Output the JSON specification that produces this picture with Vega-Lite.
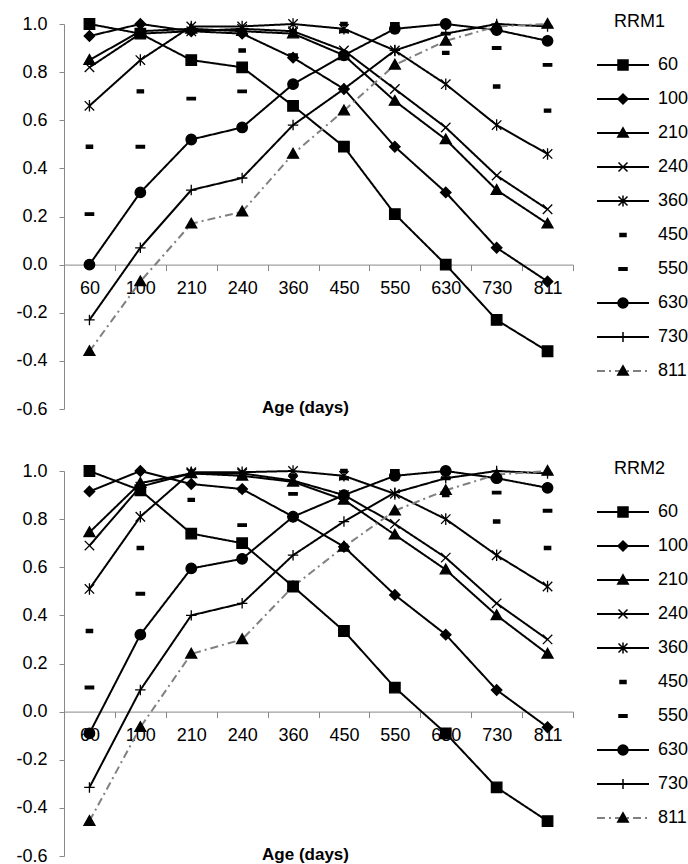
{
 "$schema": "https://vega.github.io/schema/vega-lite/v6.json",
 "padding": {"left": 15, "top": 13, "right": 0, "bottom": 0},
 "config": {
  "font": "Liberation Sans",
  "view": {"stroke": null},
  "concat": {"spacing": 42},
  "axis": {"grid": false, "domainColor": "#888888", "tickColor": "#888888", "labelColor": "black", "labelFontSize": 18, "labelFont": "Liberation Sans"}
 },
 "datasets": {
  "rrm1": [
   {"s":60,"a":60,"v":1.00},{"s":60,"a":100,"v":0.96},{"s":60,"a":210,"v":0.85},{"s":60,"a":240,"v":0.82},{"s":60,"a":360,"v":0.66},{"s":60,"a":450,"v":0.49},{"s":60,"a":550,"v":0.21},{"s":60,"a":630,"v":0.00},{"s":60,"a":730,"v":-0.23},{"s":60,"a":811,"v":-0.36},
   {"s":100,"a":60,"v":0.95},{"s":100,"a":100,"v":1.00},{"s":100,"a":210,"v":0.97},{"s":100,"a":240,"v":0.96},{"s":100,"a":360,"v":0.86},{"s":100,"a":450,"v":0.73},{"s":100,"a":550,"v":0.49},{"s":100,"a":630,"v":0.30},{"s":100,"a":730,"v":0.07},{"s":100,"a":811,"v":-0.07},
   {"s":210,"a":60,"v":0.85},{"s":210,"a":100,"v":0.97},{"s":210,"a":210,"v":0.98},{"s":210,"a":240,"v":0.97},{"s":210,"a":360,"v":0.96},{"s":210,"a":450,"v":0.87},{"s":210,"a":550,"v":0.68},{"s":210,"a":630,"v":0.52},{"s":210,"a":730,"v":0.31},{"s":210,"a":811,"v":0.17},
   {"s":240,"a":60,"v":0.82},{"s":240,"a":100,"v":0.96},{"s":240,"a":210,"v":0.97},{"s":240,"a":240,"v":0.98},{"s":240,"a":360,"v":0.97},{"s":240,"a":450,"v":0.89},{"s":240,"a":550,"v":0.73},{"s":240,"a":630,"v":0.57},{"s":240,"a":730,"v":0.37},{"s":240,"a":811,"v":0.23},
   {"s":360,"a":60,"v":0.66},{"s":360,"a":100,"v":0.85},{"s":360,"a":210,"v":0.99},{"s":360,"a":240,"v":0.99},{"s":360,"a":360,"v":1.00},{"s":360,"a":450,"v":0.98},{"s":360,"a":550,"v":0.89},{"s":360,"a":630,"v":0.75},{"s":360,"a":730,"v":0.58},{"s":360,"a":811,"v":0.46},
   {"s":450,"a":60,"v":0.49},{"s":450,"a":100,"v":0.72},{"s":450,"a":210,"v":0.85},{"s":450,"a":240,"v":0.89},{"s":450,"a":360,"v":0.97},{"s":450,"a":450,"v":1.00},{"s":450,"a":550,"v":0.97},{"s":450,"a":630,"v":0.88},{"s":450,"a":730,"v":0.74},{"s":450,"a":811,"v":0.64},
   {"s":550,"a":60,"v":0.21},{"s":550,"a":100,"v":0.49},{"s":550,"a":210,"v":0.69},{"s":550,"a":240,"v":0.72},{"s":550,"a":360,"v":0.87},{"s":550,"a":450,"v":0.97},{"s":550,"a":550,"v":1.00},{"s":550,"a":630,"v":0.96},{"s":550,"a":730,"v":0.90},{"s":550,"a":811,"v":0.83},
   {"s":630,"a":60,"v":0.00},{"s":630,"a":100,"v":0.30},{"s":630,"a":210,"v":0.52},{"s":630,"a":240,"v":0.57},{"s":630,"a":360,"v":0.75},{"s":630,"a":450,"v":0.87},{"s":630,"a":550,"v":0.98},{"s":630,"a":630,"v":1.00},{"s":630,"a":730,"v":0.975},{"s":630,"a":811,"v":0.93},
   {"s":730,"a":60,"v":-0.23},{"s":730,"a":100,"v":0.07},{"s":730,"a":210,"v":0.31},{"s":730,"a":240,"v":0.36},{"s":730,"a":360,"v":0.58},{"s":730,"a":450,"v":0.73},{"s":730,"a":550,"v":0.89},{"s":730,"a":630,"v":0.96},{"s":730,"a":730,"v":1.00},{"s":730,"a":811,"v":0.99},
   {"s":811,"a":60,"v":-0.36},{"s":811,"a":100,"v":-0.07},{"s":811,"a":210,"v":0.17},{"s":811,"a":240,"v":0.22},{"s":811,"a":360,"v":0.46},{"s":811,"a":450,"v":0.64},{"s":811,"a":550,"v":0.83},{"s":811,"a":630,"v":0.93},{"s":811,"a":730,"v":0.99},{"s":811,"a":811,"v":1.00}
  ],
  "rrm2": [
   {"s":60,"a":60,"v":1.00},{"s":60,"a":100,"v":0.92},{"s":60,"a":210,"v":0.74},{"s":60,"a":240,"v":0.70},{"s":60,"a":360,"v":0.52},{"s":60,"a":450,"v":0.335},{"s":60,"a":550,"v":0.10},{"s":60,"a":630,"v":-0.09},{"s":60,"a":730,"v":-0.315},{"s":60,"a":811,"v":-0.455},
   {"s":100,"a":60,"v":0.915},{"s":100,"a":100,"v":1.00},{"s":100,"a":210,"v":0.946},{"s":100,"a":240,"v":0.925},{"s":100,"a":360,"v":0.81},{"s":100,"a":450,"v":0.685},{"s":100,"a":550,"v":0.485},{"s":100,"a":630,"v":0.32},{"s":100,"a":730,"v":0.09},{"s":100,"a":811,"v":-0.065},
   {"s":210,"a":60,"v":0.745},{"s":210,"a":100,"v":0.95},{"s":210,"a":210,"v":0.99},{"s":210,"a":240,"v":0.98},{"s":210,"a":360,"v":0.955},{"s":210,"a":450,"v":0.88},{"s":210,"a":550,"v":0.735},{"s":210,"a":630,"v":0.59},{"s":210,"a":730,"v":0.40},{"s":210,"a":811,"v":0.24},
   {"s":240,"a":60,"v":0.69},{"s":240,"a":100,"v":0.935},{"s":240,"a":210,"v":0.99},{"s":240,"a":240,"v":0.99},{"s":240,"a":360,"v":0.96},{"s":240,"a":450,"v":0.90},{"s":240,"a":550,"v":0.78},{"s":240,"a":630,"v":0.64},{"s":240,"a":730,"v":0.45},{"s":240,"a":811,"v":0.30},
   {"s":360,"a":60,"v":0.51},{"s":360,"a":100,"v":0.81},{"s":360,"a":210,"v":0.995},{"s":360,"a":240,"v":0.995},{"s":360,"a":360,"v":1.00},{"s":360,"a":450,"v":0.98},{"s":360,"a":550,"v":0.905},{"s":360,"a":630,"v":0.80},{"s":360,"a":730,"v":0.65},{"s":360,"a":811,"v":0.52},
   {"s":450,"a":60,"v":0.335},{"s":450,"a":100,"v":0.68},{"s":450,"a":210,"v":0.88},{"s":450,"a":240,"v":0.92},{"s":450,"a":360,"v":0.98},{"s":450,"a":450,"v":1.00},{"s":450,"a":550,"v":0.97},{"s":450,"a":630,"v":0.90},{"s":450,"a":730,"v":0.79},{"s":450,"a":811,"v":0.68},
   {"s":550,"a":60,"v":0.10},{"s":550,"a":100,"v":0.49},{"s":550,"a":210,"v":0.735},{"s":550,"a":240,"v":0.775},{"s":550,"a":360,"v":0.905},{"s":550,"a":450,"v":0.97},{"s":550,"a":550,"v":1.00},{"s":550,"a":630,"v":0.97},{"s":550,"a":730,"v":0.91},{"s":550,"a":811,"v":0.835},
   {"s":630,"a":60,"v":-0.09},{"s":630,"a":100,"v":0.32},{"s":630,"a":210,"v":0.595},{"s":630,"a":240,"v":0.635},{"s":630,"a":360,"v":0.81},{"s":630,"a":450,"v":0.90},{"s":630,"a":550,"v":0.98},{"s":630,"a":630,"v":1.00},{"s":630,"a":730,"v":0.97},{"s":630,"a":811,"v":0.93},
   {"s":730,"a":60,"v":-0.315},{"s":730,"a":100,"v":0.09},{"s":730,"a":210,"v":0.40},{"s":730,"a":240,"v":0.45},{"s":730,"a":360,"v":0.65},{"s":730,"a":450,"v":0.79},{"s":730,"a":550,"v":0.91},{"s":730,"a":630,"v":0.97},{"s":730,"a":730,"v":1.00},{"s":730,"a":811,"v":0.99},
   {"s":811,"a":60,"v":-0.455},{"s":811,"a":100,"v":-0.065},{"s":811,"a":210,"v":0.24},{"s":811,"a":240,"v":0.30},{"s":811,"a":360,"v":0.52},{"s":811,"a":450,"v":0.685},{"s":811,"a":550,"v":0.835},{"s":811,"a":630,"v":0.92},{"s":811,"a":730,"v":0.985},{"s":811,"a":811,"v":1.00}
  ]
 },
 "vconcat": [
  {
   "width": 509, "height": 385,
   "data": {"name": "rrm1"},
   "encoding": {
    "x": {"field": "a", "type": "ordinal", "scale": {"type": "band", "paddingInner": 0, "paddingOuter": 0},
     "axis": {"title": "Age (days)", "titleFontSize": 17, "titleFontWeight": "bold", "titleX": 241, "titleY": 143, "titleBaseline": "middle", "offset": -144.4, "tickBand": "extent", "tickSize": 6, "labelPadding": 9, "labelAngle": 0}},
    "y": {"field": "v", "type": "quantitative", "scale": {"domain": [-0.6, 1.0], "nice": false, "zero": false},
     "axis": {"title": null, "values": [-0.6,-0.4,-0.2,0,0.2,0.4,0.6,0.8,1.0], "labelExpr": "(datum.value < -0.001 ? '-' : '') + format(abs(datum.value), '.1f')", "tickSize": 5, "labelPadding": 12}}
   },
   "layer": [
    {"transform": [{"filter": "datum.s != 450 && datum.s != 550"}], "mark": {"type": "line", "strokeWidth": 2},
     "encoding": {
      "color": {"field": "s", "type": "nominal",
       "scale": {"domain": [60,100,210,240,360,450,550,630,730,811,0], "range": ["black","black","black","black","black","transparent","transparent","black","black","#808080","black"]},
       "legend": {"title": "RRM1", "values": [60,100,210,240,360,450,550,630,730,811], "orient": "none", "legendX": 550, "legendY": -11, "padding": 0, "zindex": 0, "symbolType": "M-5.2,0H5.2", "symbolSize": 100, "symbolStrokeWidth": 2, "titleFontSize": 18, "titleFontWeight": "normal", "titleColor": "transparent", "titlePadding": 25, "labelFontSize": 18, "labelColor": "transparent", "labelOffset": 26, "rowPadding": 16}},
      "strokeDash": {"field": "s", "type": "nominal",
       "scale": {"domain": [60,100,210,240,360,450,550,630,730,811,0], "range": [[1,0],[1,0],[1,0],[1,0],[1,0],[1,0],[1,0],[1,0],[1,0],[8,4,2,4],[1,0]]},
       "legend": {"title": "RRM1", "values": [60,100,210,240,360,450,550,630,730,811], "orient": "none", "legendX": 550, "legendY": -11, "padding": 0, "zindex": 0, "symbolType": "M-5.2,0H5.2", "symbolSize": 100, "symbolStrokeWidth": 2, "titleFontSize": 18, "titleFontWeight": "normal", "titleColor": "transparent", "titlePadding": 25, "labelFontSize": 18, "labelColor": "transparent", "labelOffset": 26, "rowPadding": 16}}
     }},
    {"mark": {"type": "point", "filled": true, "stroke": "black", "strokeWidth": 1.3, "size": 110, "opacity": 1},
     "encoding": {
      "shape": {"field": "s", "type": "nominal",
       "scale": {"domain": [60,100,210,240,360,450,550,630,730,811],
        "range": ["M-1,-1H1V1H-1Z","M0,-1L1,0L0,1L-1,0Z","M0,-1.05L1.05,0.8L-1.05,0.8Z","M-0.9,-0.9L0.9,0.9M-0.9,0.9L0.9,-0.9","M-0.9,-0.9L0.9,0.9M-0.9,0.9L0.9,-0.9M0,-1.1V1.1","M-0.6,-0.3H0.6V0.3H-0.6Z","M-0.8,-0.25H0.8V0.25H-0.8Z","M1,0A1,1,0,1,1,-1,0A1,1,0,1,1,1,0Z","M-1,0H1M0,-1V1","M0,-1.05L1.05,0.8L-1.05,0.8Z"]},
       "legend": {"title": "RRM1", "orient": "none", "legendX": 550, "legendY": -11, "padding": 0, "zindex": 1, "titleFontSize": 18, "titleFontWeight": "normal", "titleColor": "black", "titlePadding": 25, "labelFontSize": 18, "labelColor": "black", "labelOffset": 26, "rowPadding": 16, "symbolSize": 100}},
      "fill": {"field": "s", "type": "nominal", "legend": null,
       "scale": {"domain": [60,100,210,240,360,450,550,630,730,811], "range": ["black","black","black","transparent","transparent","black","black","black","transparent","black"]}}
     }}
   ]
  },
  {
   "width": 509, "height": 385,
   "data": {"name": "rrm2"},
   "encoding": {
    "x": {"field": "a", "type": "ordinal", "scale": {"type": "band", "paddingInner": 0, "paddingOuter": 0},
     "axis": {"title": "Age (days)", "titleFontSize": 17, "titleFontWeight": "bold", "titleX": 241, "titleY": 143, "titleBaseline": "middle", "offset": -144.4, "tickBand": "extent", "tickSize": 6, "labelPadding": 9, "labelAngle": 0}},
    "y": {"field": "v", "type": "quantitative", "scale": {"domain": [-0.6, 1.0], "nice": false, "zero": false},
     "axis": {"title": null, "values": [-0.6,-0.4,-0.2,0,0.2,0.4,0.6,0.8,1.0], "labelExpr": "(datum.value < -0.001 ? '-' : '') + format(abs(datum.value), '.1f')", "tickSize": 5, "labelPadding": 12}}
   },
   "layer": [
    {"transform": [{"filter": "datum.s != 450 && datum.s != 550"}], "mark": {"type": "line", "strokeWidth": 2},
     "encoding": {
      "color": {"field": "s", "type": "nominal",
       "scale": {"domain": [60,100,210,240,360,450,550,630,730,811,0], "range": ["black","black","black","black","black","transparent","transparent","black","black","#808080","black"]},
       "legend": {"title": "RRM2", "values": [60,100,210,240,360,450,550,630,730,811], "orient": "none", "legendX": 550, "legendY": -11, "padding": 0, "zindex": 0, "symbolType": "M-5.2,0H5.2", "symbolSize": 100, "symbolStrokeWidth": 2, "titleFontSize": 18, "titleFontWeight": "normal", "titleColor": "transparent", "titlePadding": 25, "labelFontSize": 18, "labelColor": "transparent", "labelOffset": 26, "rowPadding": 16}},
      "strokeDash": {"field": "s", "type": "nominal",
       "scale": {"domain": [60,100,210,240,360,450,550,630,730,811,0], "range": [[1,0],[1,0],[1,0],[1,0],[1,0],[1,0],[1,0],[1,0],[1,0],[8,4,2,4],[1,0]]},
       "legend": {"title": "RRM2", "values": [60,100,210,240,360,450,550,630,730,811], "orient": "none", "legendX": 550, "legendY": -11, "padding": 0, "zindex": 0, "symbolType": "M-5.2,0H5.2", "symbolSize": 100, "symbolStrokeWidth": 2, "titleFontSize": 18, "titleFontWeight": "normal", "titleColor": "transparent", "titlePadding": 25, "labelFontSize": 18, "labelColor": "transparent", "labelOffset": 26, "rowPadding": 16}}
     }},
    {"mark": {"type": "point", "filled": true, "stroke": "black", "strokeWidth": 1.3, "size": 110, "opacity": 1},
     "encoding": {
      "shape": {"field": "s", "type": "nominal",
       "scale": {"domain": [60,100,210,240,360,450,550,630,730,811],
        "range": ["M-1,-1H1V1H-1Z","M0,-1L1,0L0,1L-1,0Z","M0,-1.05L1.05,0.8L-1.05,0.8Z","M-0.9,-0.9L0.9,0.9M-0.9,0.9L0.9,-0.9","M-0.9,-0.9L0.9,0.9M-0.9,0.9L0.9,-0.9M0,-1.1V1.1","M-0.6,-0.3H0.6V0.3H-0.6Z","M-0.8,-0.25H0.8V0.25H-0.8Z","M1,0A1,1,0,1,1,-1,0A1,1,0,1,1,1,0Z","M-1,0H1M0,-1V1","M0,-1.05L1.05,0.8L-1.05,0.8Z"]},
       "legend": {"title": "RRM2", "orient": "none", "legendX": 550, "legendY": -11, "padding": 0, "zindex": 1, "titleFontSize": 18, "titleFontWeight": "normal", "titleColor": "black", "titlePadding": 25, "labelFontSize": 18, "labelColor": "black", "labelOffset": 26, "rowPadding": 16, "symbolSize": 100}},
      "fill": {"field": "s", "type": "nominal", "legend": null,
       "scale": {"domain": [60,100,210,240,360,450,550,630,730,811], "range": ["black","black","black","transparent","transparent","black","black","black","transparent","black"]}}
     }}
   ]
  }
 ],
 "resolve": {"scale": {"x": "independent", "y": "independent", "shape": "independent", "fill": "independent", "color": "independent", "strokeDash": "independent"}, "legend": {"shape": "independent", "fill": "independent", "color": "independent", "strokeDash": "independent"}}
}
